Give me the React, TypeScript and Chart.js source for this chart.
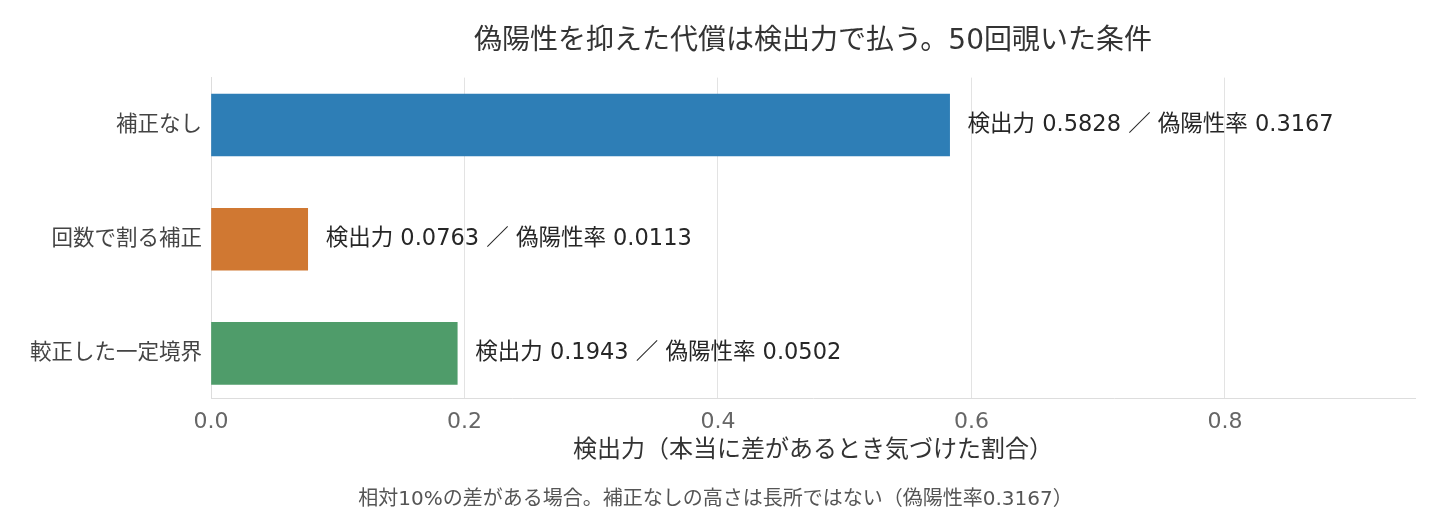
import React, { useEffect, useRef } from "react";
import { Chart, registerables } from "chart.js";

Chart.register(...registerables);

const categories = ["補正なし", "回数で割る補正", "較正した一定境界"];
const power = [0.5828, 0.0763, 0.1943];
const falsePositive = [0.3167, 0.0113, 0.0502];
const barColors = ["#2e7eb6", "#d07832", "#4f9c6a"];
const xTicks = [0, 0.2, 0.4, 0.6, 0.8];
const titleText = "偽陽性を抑えた代償は検出力で払う。50回覗いた条件";
const xTitle = "検出力（本当に差があるとき気づけた割合）";
const footnote = "相対10%の差がある場合。補正なしの高さは長所ではない（偽陽性率0.3167）";

const FONT = '"DejaVu Sans", "Noto Sans CJK JP", sans-serif';

const barLabels = {
  id: "barLabels",
  afterDatasetsDraw(chart: any) {
    const ctx = chart.ctx;
    const meta = chart.getDatasetMeta(0);
    ctx.save();
    ctx.font = `22.5px ${FONT}`;
    ctx.fillStyle = "#262626";
    ctx.textAlign = "left";
    ctx.textBaseline = "middle";
    meta.data.forEach((bar: any, i: number) => {
      ctx.fillText(
        `検出力 ${power[i].toFixed(4)} ／ 偽陽性率 ${falsePositive[i].toFixed(4)}`,
        bar.x + 18,
        bar.y
      );
    });
    ctx.restore();
  },
};

export default function App() {
  const ref = useRef<HTMLCanvasElement | null>(null);

  useEffect(() => {
    if (!ref.current) return;
    const chart = new Chart(ref.current, {
      type: "bar",
      data: {
        datasets: [
          {
            data: categories.map((_, i) => ({ x: power[i], y: i })) as any,
            backgroundColor: barColors,
            borderWidth: 0,
            barThickness: 62,
          },
        ],
      },
      plugins: [barLabels],
      options: {
        indexAxis: "y",
        responsive: false,
        animation: false,
        layout: { padding: { left: 16, right: 25, top: 0, bottom: 0 } },
        plugins: {
          legend: { display: false },
          tooltip: { enabled: false },
          title: {
            display: true,
            text: titleText,
            fullSize: false,
            color: "#333333",
            font: { family: FONT, size: 28, weight: "normal" },
            padding: { top: 25, bottom: 19 },
          },
          subtitle: {
            display: true,
            position: "bottom",
            text: footnote,
            color: "#555555",
            font: { family: FONT, size: 20, weight: "normal" },
            padding: { top: 10, bottom: 0 },
          },
        },
        scales: {
          x: {
            type: "linear",
            min: 0,
            max: 0.95,
            offset: false,
            afterBuildTicks: (scale: any) => {
              scale.ticks = xTicks.map((v) => ({ value: v }));
            },
            afterFit: (scale: any) => {
              scale.height = 80;
            },
            ticks: {
              color: "#666666",
              font: { family: FONT, size: 22 },
              padding: 11,
              callback: (v: any) => Number(v).toFixed(1),
            },
            grid: { color: "#e3e3e3", drawTicks: false, lineWidth: 1, offset: false },
            border: { display: true, color: "#dddddd" },
            title: {
              display: true,
              text: xTitle,
              color: "#333333",
              font: { family: FONT, size: 24 },
              padding: { top: 0, bottom: 13 },
            },
          },
          y: {
            type: "linear",
            min: -0.415,
            max: 2.39,
            reverse: true,
            offset: false,
            afterBuildTicks: (scale: any) => {
              scale.ticks = categories.map((_, i) => ({ value: i }));
            },
            afterFit: (scale: any) => {
              scale.width = 195;
            },
            ticks: {
              color: "#444444",
              font: { family: FONT, size: 21.5 },
              padding: 9,
              callback: (v: any) => categories[Number(v)] ?? "",
            },
            grid: { display: false, drawTicks: false, offset: false },
            border: { display: true, color: "#dddddd" },
          },
        },
      } as any,
    });
    return () => chart.destroy();
  }, []);

  return (
    <div style={{ position: "fixed", left: 0, top: 0, width: 1440, height: 512, background: "#ffffff" }}>
      <canvas ref={ref} width={1440} height={512} style={{ width: 1440, height: 512 }} />
    </div>
  );
}
